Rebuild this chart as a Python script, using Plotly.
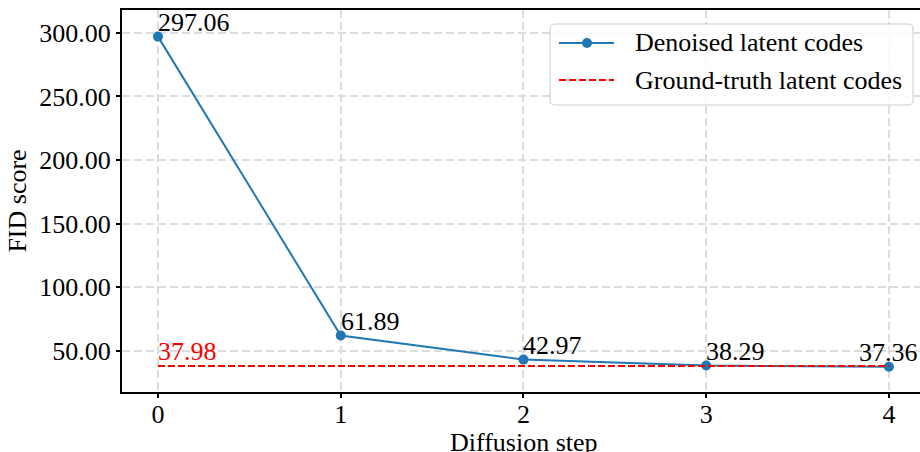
import plotly.graph_objects as go

# FID score per diffusion step
steps = [0, 1, 2, 3, 4]
fid_denoised = [297.06, 61.89, 42.97, 38.29, 37.36]
fid_ground_truth = 37.98
y_ticks = [50, 100, 150, 200, 250, 300]

FONT = "Liberation Serif"
BLUE = "#1f77b4"
RED = "#ff0000"
FS = 26

W, H = 920, 452
L, R, T, B = 122, 0, 10, 60
PW, PH = W - L - R, H - T - B


def px(x):
    return (x - L) / PW


def py(y):
    return 1 - (y - T) / PH


fig = go.Figure()

fig.add_trace(go.Scatter(
    x=steps, y=fid_denoised, mode="lines+markers",
    line=dict(color=BLUE, width=2),
    marker=dict(color=BLUE, size=10),
    name="Denoised latent codes", showlegend=False,
))
fig.add_trace(go.Scatter(
    x=[steps[0], steps[-1]], y=[fid_ground_truth, fid_ground_truth], mode="lines",
    line=dict(color=RED, width=2, dash="7px,3px"),
    name="Ground-truth latent codes", showlegend=False,
))

# value labels
for i, (s, v) in enumerate(zip(steps, fid_denoised)):
    last = i == len(steps) - 1
    fig.add_annotation(
        x=s, y=v, text=f"{v:.2f}", showarrow=False,
        xanchor="center" if last else "left", yanchor="bottom",
        font=dict(family=FONT, size=FS, color="black"),
        xshift=0 if last else -2, yshift=-2,
    )
fig.add_annotation(
    x=steps[0], y=fid_ground_truth, text=f"{fid_ground_truth:.2f}", showarrow=False,
    xanchor="left", yanchor="bottom",
    font=dict(family=FONT, size=FS, color=RED), xshift=-2, yshift=-2,
)

# legend box
x0, x1, y0, y1, r = 550, 913, 24, 105, 5
path = (
    f"M {px(x0 + r)} {py(y0)} L {px(x1 - r)} {py(y0)} "
    f"Q {px(x1)} {py(y0)} {px(x1)} {py(y0 + r)} L {px(x1)} {py(y1 - r)} "
    f"Q {px(x1)} {py(y1)} {px(x1 - r)} {py(y1)} L {px(x0 + r)} {py(y1)} "
    f"Q {px(x0)} {py(y1)} {px(x0)} {py(y1 - r)} L {px(x0)} {py(y0 + r)} "
    f"Q {px(x0)} {py(y0)} {px(x0 + r)} {py(y0)} Z"
)
fig.add_shape(type="path", path=path, xref="paper", yref="paper",
              fillcolor="rgba(255,255,255,0.85)", line=dict(color="#cccccc", width=1),
              layer="above")
fig.add_shape(type="line", xref="paper", yref="paper",
              x0=px(559), x1=px(614), y0=py(43), y1=py(43),
              line=dict(color=BLUE, width=2), layer="above")
fig.add_shape(type="circle", xref="paper", yref="paper",
              x0=px(582), x1=px(592), y0=py(38), y1=py(48),
              fillcolor=BLUE, line=dict(color=BLUE, width=0), layer="above")
fig.add_shape(type="line", xref="paper", yref="paper",
              x0=px(559), x1=px(614), y0=py(80), y1=py(80),
              line=dict(color=RED, width=2, dash="7px,3px"), layer="above")
for yy, label in [(43, "Denoised latent codes"), (80, "Ground-truth latent codes")]:
    fig.add_annotation(x=px(633), y=py(yy), xref="paper", yref="paper",
                       text=label, showarrow=False, xanchor="left", yanchor="middle",
                       font=dict(family=FONT, size=FS, color="black"))

axis_common = dict(
    showline=True, linecolor="black", linewidth=2,
    ticks="outside", ticklen=4, tickwidth=1.5, tickcolor="black",
    showgrid=True, gridcolor="#dcdcdc", gridwidth=1.5, griddash="8px,4px",
    zeroline=False, automargin=False,
    tickfont=dict(family=FONT, size=FS, color="black"),
)

fig.update_xaxes(
    **axis_common, mirror=True, range=[-0.197, 4.17],
    tickvals=steps, ticktext=[str(s) for s in steps],
    ticklabelstandoff=-6,
)
fig.update_yaxes(
    **axis_common, range=[17.5, 318], tickvals=y_ticks, tickformat=".2f",
    title=dict(text="FID score", font=dict(family=FONT, size=FS, color="black"), standoff=5),
)

# x-axis title
fig.add_annotation(x=0.5 * (px(158) + px(889)), y=py(442), xref="paper", yref="paper",
                   text="Diffusion step", showarrow=False, xanchor="center", yanchor="middle",
                   font=dict(family=FONT, size=FS, color="black"))

fig.update_layout(
    width=W, height=H,
    margin=dict(l=L, r=R, t=T, b=B),
    paper_bgcolor="white", plot_bgcolor="white",
    showlegend=False,
)

fig.write_html("out.html")
